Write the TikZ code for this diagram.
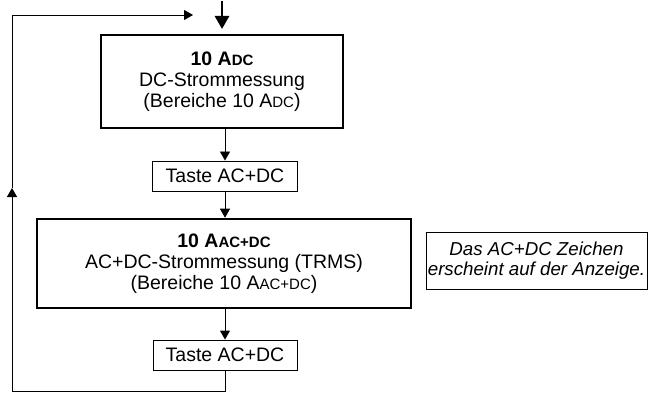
\documentclass[tikz,border=0pt]{standalone}
\usepackage{fontspec}
\setmainfont{Liberation Sans}
\usetikzlibrary{arrows.meta}
\newcommand{\smc}[1]{{\fontsize{15}{16}\selectfont #1}}
\begin{document}
\begin{tikzpicture}[x=1pt,y=-1pt,
  thinline/.style={line width=0.9pt},
  arr/.style={thinline,-{Triangle[length=9pt,width=10pt]}},
  bigbox/.style={draw,line width=2.6pt,align=center,inner sep=0pt,
     font=\fontsize{19.5}{21}\selectfont},
  keybox/.style={draw,line width=0.9pt,align=center,inner sep=0pt,
     font=\fontsize{19.5}{21}\selectfont},
  notebox/.style={draw,line width=0.9pt,align=center,inner sep=0pt,
     font=\fontsize{18.7}{20.5}\selectfont\itshape}]
\useasboundingbox (0,0) rectangle (656,393);
\fill[white] (0,0) rectangle (656,393);

\node[bigbox,minimum width=242pt,minimum height=93pt] (b1) at (222,81.5)
  {\textbf{10 A\smc{DC}}\\DC-Strommessung\\(Bereiche 10 A\smc{DC})};
\node[keybox,minimum width=145pt,minimum height=30pt] (t1) at (225,176) {Taste AC+DC};
\node[bigbox,minimum width=374pt,minimum height=89pt] (b2) at (224,263.5)
  {\textbf{10 A\smc{AC+DC}}\\AC+DC-Strommessung (TRMS)\\(Bereiche 10 A\smc{AC+DC})};
\node[keybox,minimum width=144pt,minimum height=30pt] (t2) at (225,355) {Taste AC+DC};
\node[notebox,minimum width=221pt,minimum height=57pt] (n) at (536.5,260.5)
  {Das AC+DC Zeichen\\erscheint auf der Anzeige.};

\coordinate (top) at (222,1);
\coordinate (in) at (222,29);
\draw[line width=2.8pt,-{Triangle[length=13pt,width=14pt]}] (top) -- (in);

\draw[arr] (b1.south -| t1) -- (t1.north);
\draw[arr] (t1.south) -- (b2.north -| t1);
\draw[arr] (b2.south -| t2) -- (t2.north);

\coordinate (bl) at (12,391);
\coordinate (mid) at (12,188);
\coordinate (tl) at (12,15);
\coordinate (end) at (193,15);
\draw[arr] (t2.south) |- (bl) -- (mid);
\draw[arr] (mid) -- (tl) -- (end);
\end{tikzpicture}
\end{document}
